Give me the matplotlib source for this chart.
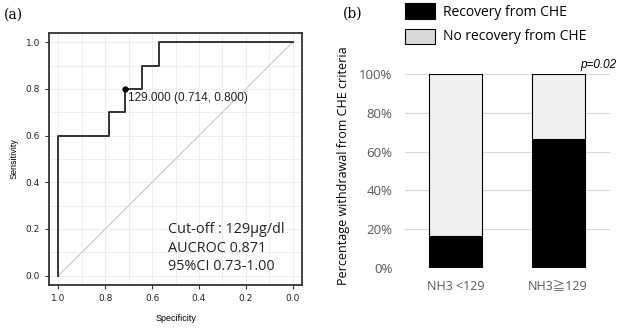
import matplotlib
matplotlib.use('Agg')
import matplotlib.pyplot as plt
from matplotlib.patches import Rectangle

# ROC curve (specificity, sensitivity)
roc_spec = [1.0, 1.0, 0.786, 0.786, 0.714, 0.714, 0.643, 0.643, 0.571, 0.571, 0.0]
roc_sens = [0.0, 0.6, 0.6, 0.7, 0.7, 0.8, 0.8, 0.9, 0.9, 1.0, 1.0]
cut_spec = 0.714
cut_sens = 0.800
cut_label = '129.000 (0.714, 0.800)'
roc_text = ['Cut-off : 129\u03bcg/dl', 'AUCROC 0.871', '95%CI 0.73-1.00']

# stacked bars
groups = ['NH3 <129', 'NH3\u2267129']
recovery = [16.7, 66.7]
no_recovery = [83.3, 33.3]

fig = plt.figure(figsize=(6.25, 3.28), dpi=100)
W, H = 625.0, 328.0

# ---- panel (a)
ax = fig.add_axes([49/W, 1-285/H, (302-49)/W, (285-33)/H])
ax.set_xlim(1.04, -0.04)
ax.set_ylim(-0.04, 1.04)
for v in [i/10 for i in range(11)]:
    ax.axvline(v, color='#ebebeb', lw=0.6, zorder=0)
    ax.axhline(v, color='#ebebeb', lw=0.6, zorder=0)
ax.plot([1, 0], [0, 1], color='#c8c8c8', lw=0.8, zorder=1)
ax.plot(roc_spec, roc_sens, color='#333333', lw=1.4, zorder=2)
ax.plot([cut_spec], [cut_sens], 'o', color='black', ms=3.5, zorder=3)
ax.text(cut_spec - 0.01, cut_sens - 0.012, cut_label, fontsize=8.5,
        family='Liberation Sans', va='top', ha='left', color='#222222')
for i, t in enumerate(roc_text):
    ax.text(0.532, 0.197 - i*0.079, t, fontsize=10.4, family='Open Sans',
            va='center', ha='left', color='#222222')
ticks = [1.0, 0.8, 0.6, 0.4, 0.2, 0.0]
ax.set_xticks(ticks)
ax.set_xticklabels(['%.1f' % t for t in ticks])
ax.set_yticks(ticks)
ax.set_yticklabels(['%.1f' % t for t in ticks])
ax.tick_params(labelsize=6.5, length=3, width=0.8, color='#333333', labelcolor='#222222')
for s in ax.spines.values():
    s.set_linewidth(1.3)
    s.set_color('#333333')
ax.set_xlabel('Specificity', fontsize=6.5, family='Liberation Sans', labelpad=8)
ax.set_ylabel('Sensitivity', fontsize=6.5, family='Liberation Sans', labelpad=5)
fig.text(4/W, 1-15/H, '(a)', fontsize=10, family='DejaVu Serif', va='center', ha='left')

# ---- panel (b)
bx = fig.add_axes([405/W, 1-268/H, (610-405)/W, (268-74)/H])
x = [0, 1]
bx.bar(x, recovery, width=0.517, color='black', edgecolor='black', lw=0.8, zorder=2)
bx.bar(x, no_recovery, bottom=recovery, width=0.517, color='#efefef',
       edgecolor='black', lw=0.8, zorder=2)
bx.set_xlim(-0.493, 1.507)
bx.set_ylim(0, 100)
bx.set_yticks([0, 20, 40, 60, 80, 100])
bx.set_yticklabels(['%d%%' % v for v in [0, 20, 40, 60, 80, 100]])
bx.yaxis.grid(True, color='#d9d9d9', lw=0.8, zorder=0)
bx.set_axisbelow(True)
for s in bx.spines.values():
    s.set_visible(False)
bx.set_xticks(x)
bx.set_xticklabels(groups)
for lbl in bx.get_xticklabels():
    lbl.set_family(['Open Sans', 'Noto Sans CJK JP', 'DejaVu Sans'])
bx.tick_params(axis='both', length=0, labelsize=9, labelcolor='#595959')
bx.tick_params(axis='x', pad=9)
bx.tick_params(axis='y', pad=9, labelsize=9.5)
for lbl in bx.get_yticklabels():
    lbl.set_family('Open Sans')
bx.set_ylabel('Percentage withdrawal from CHE criteria', fontsize=9,
              family='Open Sans')
bx.yaxis.set_label_coords(-0.268, 0.526)
bx.text(1.57, 101.5, 'p=0.02', fontsize=8.5, family='Liberation Sans',
        style='italic', ha='right', va='bottom')

# legend drawn by hand to match layout
fig.patches.append(Rectangle((405/W, 1-19/H), 30/W, 16/H, transform=fig.transFigure,
                             facecolor='black', edgecolor='black', lw=0.8))
fig.patches.append(Rectangle((405/W, 1-44/H), 30/W, 15/H, transform=fig.transFigure,
                             facecolor='#d9d9d9', edgecolor='black', lw=0.8))
fig.text(443/W, 1-12/H, 'Recovery from CHE', fontsize=10, family='Open Sans', va='center')
fig.text(443/W, 1-37/H, 'No recovery from CHE', fontsize=10, family='Open Sans', va='center')
fig.text(343/W, 1-14/H, '(b)', fontsize=10, family='DejaVu Serif', va='center', ha='left')

fig.savefig('out.png', dpi=100)
